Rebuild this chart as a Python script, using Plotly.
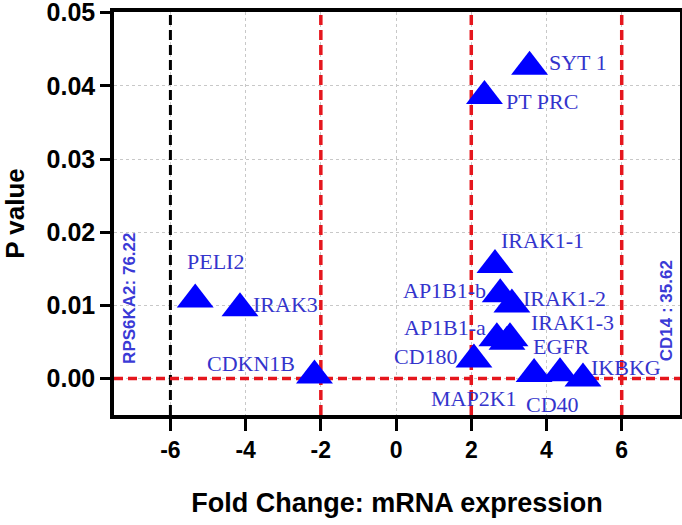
import plotly.graph_objects as go

# ---- data ----
genes = ["SYT 1", "PT PRC", "PELI2", "IRAK3", "CDKN1B", "IRAK1-1", "AP1B1-b",
         "IRAK1-2", "AP1B1-a", "IRAK1-3", "EGFR", "CD180", "MAP2K1", "CD40", "IKBKG"]
fold_change = [3.55, 2.35, -5.34, -4.15, -2.17, 2.63, 2.77,
               3.08, 2.68, 3.03, 2.95, 2.07, 3.67, 4.36, 4.97]
p_values = [0.0426, 0.0386, 0.0108, 0.0096, 0.0004, 0.0155, 0.0115,
            0.0101, 0.0055, 0.0055, 0.0050, 0.0026, 0.0006, 0.0007, 0.0000]

# label offsets in pixels relative to each point
label_dx = [48, 58, 20, 46, -63, 48, -56, 53, -52, 62, 54, -48, -60, -8, 43]
label_dy = [4, -5, 38, 4, 12, 25, 4, 6, 11, 16, -5, 3, -24, -31, 11]

threshold_x = [-2, 2, 6]
black_line_x = [-6]
threshold_y = [0]

off_scale = [("RPS6KA2: 76.22", -7.07, 0.0109), ("CD14 : 35.62", 7.2, 0.0093)]

x_ticks = [-6, -4, -2, 0, 2, 4, 6]
y_ticks = [0.00, 0.01, 0.02, 0.03, 0.04, 0.05]
x_range = [-7.5, 7.55]
y_range = [-0.005, 0.0501]

RED = "#e5161d"
LABEL_BLUE = "#3434cc"
SANS = "Liberation Sans, Arial, sans-serif"

fig = go.Figure()

# reference lines drawn as line traces
for xv in black_line_x:
    fig.add_trace(go.Scatter(x=[xv, xv], y=y_range, mode="lines", hoverinfo="skip",
                             line=dict(color="black", width=3, dash="10px,5px"), showlegend=False))
for xv in threshold_x:
    fig.add_trace(go.Scatter(x=[xv, xv], y=y_range, mode="lines", hoverinfo="skip",
                             line=dict(color=RED, width=3.5, dash="10px,5px"), showlegend=False))
for yv in threshold_y:
    fig.add_trace(go.Scatter(x=x_range, y=[yv, yv], mode="lines", hoverinfo="skip",
                             line=dict(color=RED, width=3.5, dash="9px,5px"), showlegend=False))

fig.add_trace(go.Scatter(
    x=fold_change, y=p_values, mode="markers",
    marker=dict(symbol="triangle-up", size=32, color="#0000ff", line=dict(width=0)),
    hovertext=genes, showlegend=False, cliponaxis=False,
))

annotations = []
for g, xv, yv, dx, dy in zip(genes, fold_change, p_values, label_dx, label_dy):
    annotations.append(dict(x=xv, y=yv, xref="x", yref="y", text=g, showarrow=False,
                            xshift=dx, yshift=dy, xanchor="center", yanchor="middle",
                            font=dict(family="Liberation Serif, Times New Roman, serif",
                                      size=22, color=LABEL_BLUE)))
for txt, xv, yv in off_scale:
    annotations.append(dict(x=xv, y=yv, xref="x", yref="y", text="<b>%s</b>" % txt,
                            showarrow=False, textangle=-90, xanchor="center", yanchor="middle",
                            font=dict(family=SANS, size=17, color="#3a3ad6")))

fig.update_layout(
    width=682, height=525,
    margin=dict(l=114, r=2, t=12, b=110),
    paper_bgcolor="white", plot_bgcolor="white",
    annotations=annotations,
    font=dict(family=SANS, color="black"),
)

fig.update_xaxes(
    range=x_range, tickvals=x_ticks, ticktext=[str(v) for v in x_ticks],
    showline=True, linecolor="black", linewidth=3.5, mirror=True,
    ticks="outside", ticklen=12, tickwidth=3, tickcolor="black",
    showgrid=True, gridcolor="#c8c8c8", griddash="dot", gridwidth=1,
    zeroline=False, automargin=False, ticklabeloverflow="allow",
    tickfont=dict(size=23, family=SANS, color="black", weight="bold"),
    title=dict(text="<b>Fold Change: mRNA expression</b>", standoff=32,
               font=dict(size=27, family=SANS, color="black")),
)
fig.update_yaxes(
    range=y_range, tickvals=y_ticks, ticktext=["%.2f" % v for v in y_ticks],
    showline=True, linecolor="black", linewidth=3.5, mirror=True,
    ticks="outside", ticklen=10, tickwidth=3, tickcolor="black",
    showgrid=True, gridcolor="#c8c8c8", griddash="dot", gridwidth=1,
    zeroline=False, automargin=False, ticklabeloverflow="allow",
    tickfont=dict(size=25, family=SANS, color="black", weight="bold"),
    title=dict(text="<b>P value</b>", standoff=28,
               font=dict(size=26, family=SANS, color="black")),
)

fig.write_html("out.html", config={"displayModeBar": False},
               post_script="document.body.style.margin='0';")
